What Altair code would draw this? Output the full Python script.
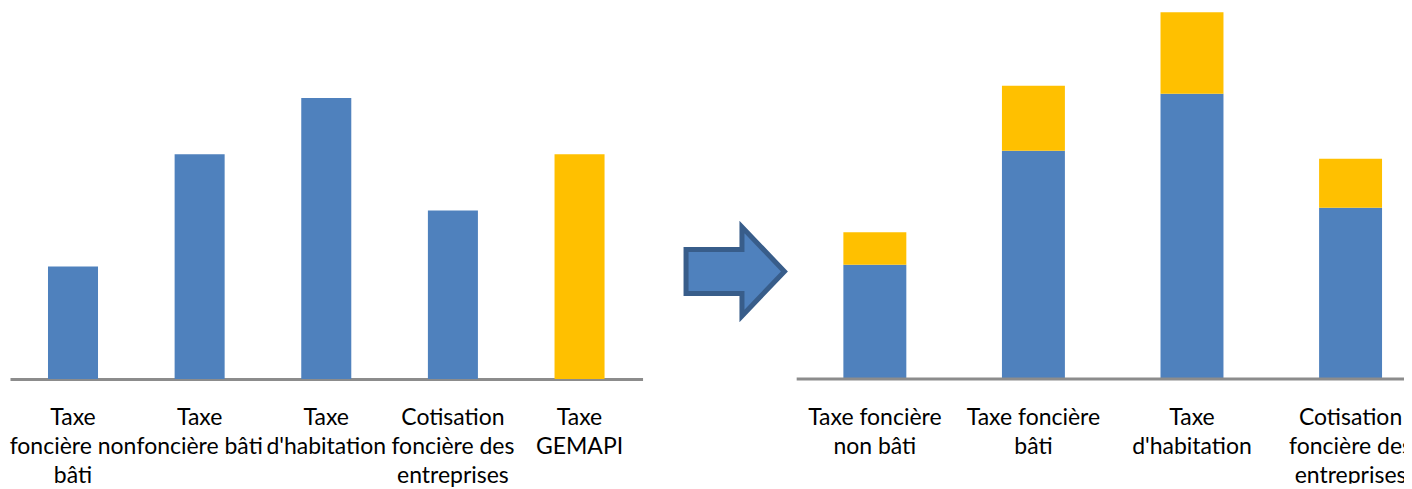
import altair as alt
import pandas as pd
import json

# ---- data ----
left_categories = ["Taxe foncière non bâti", "Taxe foncière bâti", "Taxe d'habitation",
                   "Cotisation foncière des entreprises", "Taxe GEMAPI"]
left_values = [20, 40, 50, 30, 40]
left_kind = ["base", "base", "base", "base", "gemapi"]
left_lines = [["Taxe", "foncière non", "bâti"], ["Taxe", "foncière bâti"], ["Taxe", "d'habitation"],
              ["Cotisation", "foncière des", "entreprises"], ["Taxe", "GEMAPI"]]

right_categories = ["Taxe foncière non bâti", "Taxe foncière bâti", "Taxe d'habitation",
                    "Cotisation foncière des entreprises"]
right_base = [20, 40, 50, 30]
right_gemapi = [5.7, 11.4, 14.3, 8.6]
right_lines = [["Taxe foncière", "non bâti"], ["Taxe foncière", "bâti"], ["Taxe", "d'habitation"],
               ["Cotisation", "foncière des", "entreprises"]]

BLUE = "#4F81BD"
YELLOW = "#FFC000"
AXIS_GREY = "#8C8C8C"
FONT = "Lato"
FS = 23
LH = 29
LPAD = 28

color_scale = alt.Scale(domain=["base", "gemapi"], range=[BLUE, YELLOW])


def label_expr(cats, lines):
    mapping = {c: l for c, l in zip(cats, lines)}
    return json.dumps(mapping, ensure_ascii=False) + "[datum.label]"


H = 367

# ---- left chart ----
left_df = pd.DataFrame({"cat": left_categories, "value": left_values, "kind": left_kind})
left = alt.Chart(left_df).mark_bar().encode(
    x=alt.X("cat:N", sort=left_categories,
            scale=alt.Scale(paddingInner=0.605, paddingOuter=0.3),
            axis=alt.Axis(title=None, labelAngle=0, ticks=False, grid=False,
                          domainColor=AXIS_GREY, domainWidth=3,
                          labelFont=FONT, labelFontSize=FS, labelColor="#000000",
                          labelLineHeight=LH, labelPadding=LPAD, labelBaseline="top",
                          labelOverlap=False, labelLimit=0,
                          labelExpr=label_expr(left_categories, left_lines))),
    y=alt.Y("value:Q", scale=alt.Scale(domain=[0, 65.3], nice=False), axis=None),
    color=alt.Color("kind:N", scale=color_scale, legend=None),
).properties(width=633, height=H)

# ---- arrow ----
arrow_path = ("M -0.952 -0.419 L 0.114 -0.419 L 0.114 -0.848 L 0.924 0 "
              "L 0.114 0.848 L 0.114 0.419 L -0.952 0.419 Z")
arrow = alt.Chart(pd.DataFrame({"a": [1]})).mark_point(
    shape=arrow_path, size=11025, filled=True, fill=BLUE, fillOpacity=1,
    stroke="#385D8A", strokeWidth=5, opacity=1
).encode(x=alt.value(93.5), y=alt.value(259.5)).properties(width=154, height=H)

# ---- right chart (cut at the window edge like the reference) ----
RW = 608
RH = H + 105
rows = []
for c, b, g in zip(right_categories, right_base, right_gemapi):
    rows.append({"cat": c, "value": b, "kind": "base", "ord": 0})
    rows.append({"cat": c, "value": g, "kind": "gemapi", "ord": 1})
right_df = pd.DataFrame(rows)

xr = alt.X("cat:N", sort=right_categories,
           scale=alt.Scale(paddingInner=0.603, paddingOuter=0.296, range=[0, 633]),
           axis=None)

right_bars = alt.Chart(right_df).mark_bar().encode(
    x=xr,
    y=alt.Y("value:Q", stack="zero",
            scale=alt.Scale(domain=[0, 64.3], nice=False, range=[H, 0]), axis=None),
    color=alt.Color("kind:N", scale=color_scale, legend=None),
    order=alt.Order("ord:Q"),
)

right_domain = alt.Chart(pd.DataFrame({"a": [1]})).mark_rule(
    color=AXIS_GREY, strokeWidth=3, clip=True
).encode(x=alt.value(0), x2=alt.value(RW + 30), y=alt.value(H))

lab_df = pd.DataFrame({"cat": right_categories, "lab": ["\n".join(l) for l in right_lines]})
right_labels = alt.Chart(lab_df).mark_text(
    font=FONT, fontSize=FS, lineHeight=LH, lineBreak="\n", color="#000000",
    align="center", baseline="top", clip=True
).encode(x=xr, y=alt.value(H + LPAD), text="lab:N")

right = alt.layer(right_bars, right_domain, right_labels).properties(width=RW, height=RH)

chart = alt.hconcat(left, arrow, right, spacing=0).properties(
    padding={"left": 1, "top": 4, "right": 0, "bottom": 0}
).configure_view(strokeWidth=0)

chart.save("out.html", embed_options={"renderer": "svg", "actions": False})
